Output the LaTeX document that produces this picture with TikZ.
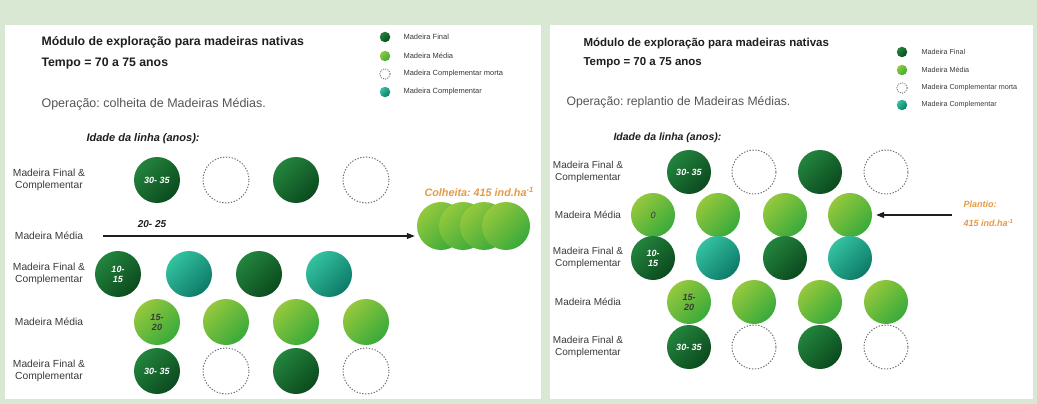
\documentclass[tikz,border=0pt]{standalone}
\usepackage{fontspec}
\setmainfont{Liberation Sans}
\frenchspacing
\usetikzlibrary{arrows.meta}
\definecolor{bg}{HTML}{D9E8D3}
\definecolor{finA}{HTML}{23843D}
\definecolor{finB}{HTML}{0B4A1E}
\definecolor{medA}{HTML}{95C83D}
\definecolor{medB}{HTML}{38AA3A}
\definecolor{compA}{HTML}{33C2A0}
\definecolor{compB}{HTML}{0D7A68}
\definecolor{orng}{HTML}{E69A45}
\definecolor{txtdark}{HTML}{1E1E1E}
\definecolor{txtgray}{HTML}{555555}
\definecolor{labgray}{HTML}{3A3A3A}
\definecolor{dotgray}{HTML}{707070}
\tikzset{
  ball/.style={circle, inner sep=0pt, minimum size=46pt},
  bigball/.style={circle, inner sep=0pt, minimum size=48pt},
  sball/.style={circle, inner sep=0pt, minimum size=44pt},
  lball/.style={circle, inner sep=0pt, minimum size=10.5pt},
  fin/.style={shade, top color=finA, bottom color=finB, shading angle=45},
  med/.style={shade, top color=medA, bottom color=medB, shading angle=45},
  comp/.style={shade, top color=compA, bottom color=compB, shading angle=45},
  morta/.style={draw=dotgray, dash pattern=on 1.3pt off 1.6pt, line width=1pt},
  lmorta/.style={draw=dotgray, dash pattern=on 1pt off 1.2pt, line width=0.9pt},
  rowlab/.style={align=center, font=\fontsize{10.3}{12.5}\selectfont, text=labgray},
  inw/.style={font=\bfseries\itshape\fontsize{9}{10}\selectfont, align=center, text=white},
  ind/.style={font=\bfseries\itshape\fontsize{9}{10}\selectfont, align=center, text=labgray},
  title/.style={anchor=west, font=\bfseries\fontsize{12.3}{14}\selectfont, text=txtdark},
  oper/.style={anchor=west, font=\fontsize{12.5}{15}\selectfont, text=txtgray},
  idade/.style={anchor=west, font=\bfseries\itshape\fontsize{11}{13}\selectfont, text=txtdark},
  legtxt/.style={anchor=west, font=\fontsize{7.5}{9}\selectfont, text=labgray},
  orangetxt/.style={anchor=west, font=\bfseries\itshape\fontsize{10.8}{12}\selectfont, text=orng},
  arr/.style={-{Triangle[length=8pt,width=6pt]}, line width=1.1pt, draw=txtdark},
}
\begin{document}
\begin{tikzpicture}[x=1pt,y=-1pt]
\useasboundingbox (0,0) rectangle (1037,404);
\fill[bg] (0,0) rectangle (1037,404);
\fill[white] (5,25) rectangle (541,399);
\fill[white] (550,25) rectangle (1033,399);

% ---------------- LEFT PANEL ----------------
\node[title] (Lt1) at (38,42) {Módulo de exploração para madeiras nativas};
\node[title] (Lt2) at (38,63) {Tempo = 70 a 75 anos};
\node[oper] (Lop) at (38,104) {Operação: colheita de Madeiras Médias.};
\node[idade] (Lid) at (83,139) {Idade da linha (anos):};

\node[lball, fin] (Lg1) at (385,37) {};
\node[lball, med] (Lg2) at (385,56) {};
\node[lball, lmorta] (Lg3) at (385,74) {};
\node[lball, comp] (Lg4) at (385,92) {};
\node[legtxt] (Lg1t) at (400,37) {Madeira Final};
\node[legtxt] (Lg2t) at (400,56) {Madeira Média};
\node[legtxt] (Lg3t) at (400,74) {Madeira Complementar morta};
\node[legtxt] (Lg4t) at (400,92) {Madeira Complementar};

% row 1
\node[rowlab] (Lr1) at (49,180) {Madeira Final \&\\Complementar};
\node[ball, fin, inw] (L1a) at (157,180) {30- 35};
\node[ball, morta] (L1b) at (226,180) {};
\node[ball, fin] (L1c) at (296,180) {};
\node[ball, morta] (L1d) at (366,180) {};
\node[orangetxt] (Lcol) at (421,192) {Colheita: 415 ind.ha\textsuperscript{-1}};

% row 2
\node[rowlab] (Lr2) at (49,236) {Madeira Média};
\node[font=\bfseries\itshape\fontsize{10}{12}\selectfont, text=txtdark] (Lage2) at (152,224) {20- 25};
\node[bigball, med] (H1) at (441,226) {};
\node[bigball, med] (H2) at (463,226) {};
\node[bigball, med] (H3) at (484,226) {};
\node[bigball, med] (H4) at (506,226) {};
\coordinate (La) at (103,236);
\draw[arr, shorten >=2pt] (La) -- (La -| H1.west);

% row 3
\node[rowlab] (Lr3) at (49,274) {Madeira Final \&\\Complementar};
\node[ball, fin, inw] (L3a) at (118,274) {10-\\15};
\node[ball, comp] (L3b) at (189,274) {};
\node[ball, fin] (L3c) at (259,274) {};
\node[ball, comp] (L3d) at (329,274) {};

% row 4
\node[rowlab] (Lr4) at (49,322) {Madeira Média};
\node[ball, med, ind] (L4a) at (157,322) {15-\\20};
\node[ball, med] (L4b) at (226,322) {};
\node[ball, med] (L4c) at (296,322) {};
\node[ball, med] (L4d) at (366,322) {};

% row 5
\node[rowlab] (Lr5) at (49,371) {Madeira Final \&\\Complementar};
\node[ball, fin, inw] (L5a) at (157,371) {30- 35};
\node[ball, morta] (L5b) at (226,371) {};
\node[ball, fin] (L5c) at (296,371) {};
\node[ball, morta] (L5d) at (366,371) {};

% ---------------- RIGHT PANEL ----------------
\node[title, font=\bfseries\fontsize{11.5}{13}\selectfont] (Rt1) at (580,43) {Módulo de exploração para madeiras nativas};
\node[title, font=\bfseries\fontsize{11.5}{13}\selectfont] (Rt2) at (580,63) {Tempo = 70 a 75 anos};
\node[oper, font=\fontsize{12.2}{14}\selectfont] (Rop) at (563,102) {Operação: replantio de Madeiras Médias.};
\node[idade, font=\bfseries\itshape\fontsize{10.5}{12}\selectfont] (Rid) at (610,138) {Idade da linha (anos):};

\node[lball, fin] (Rg1) at (902,52) {};
\node[lball, med] (Rg2) at (902,70) {};
\node[lball, lmorta] (Rg3) at (902,88) {};
\node[lball, comp] (Rg4) at (902,105) {};
\node[legtxt, font=\fontsize{7.2}{8}\selectfont] (Rg1t) at (918,52) {Madeira Final};
\node[legtxt, font=\fontsize{7.2}{8}\selectfont] (Rg2t) at (918,70) {Madeira Média};
\node[legtxt, font=\fontsize{7.2}{8}\selectfont] (Rg3t) at (918,88) {Madeira Complementar morta};
\node[legtxt, font=\fontsize{7.2}{8}\selectfont] (Rg4t) at (918,105) {Madeira Complementar};

% row 1
\node[rowlab, font=\fontsize{10}{12}\selectfont] (Rr1) at (588,172) {Madeira Final \&\\Complementar};
\node[sball, fin, inw] (R1a) at (689,172) {30- 35};
\node[sball, morta] (R1b) at (754,172) {};
\node[sball, fin] (R1c) at (820,172) {};
\node[sball, morta] (R1d) at (886,172) {};

% row 2
\node[rowlab, font=\fontsize{10}{12}\selectfont] (Rr2) at (588,215) {Madeira Média};
\node[sball, med, ind, font=\itshape\fontsize{9}{10}\selectfont] (R2a) at (653,215) {0};
\node[sball, med] (R2b) at (718,215) {};
\node[sball, med] (R2c) at (785,215) {};
\node[sball, med] (R2d) at (850,215) {};
\coordinate (Ra) at (952,215);
\draw[arr, shorten >=4pt] (Ra) -- (R2d.east);
\node[orangetxt, font=\bfseries\itshape\fontsize{9}{11}\selectfont] (Rpl1) at (960,204) {Plantio:};
\node[orangetxt, font=\bfseries\itshape\fontsize{9}{11}\selectfont] (Rpl2) at (960,223) {415 ind.ha\textsuperscript{-1}};

% row 3
\node[rowlab, font=\fontsize{10}{12}\selectfont] (Rr3) at (588,258) {Madeira Final \&\\Complementar};
\node[sball, fin, inw] (R3a) at (653,258) {10-\\15};
\node[sball, comp] (R3b) at (718,258) {};
\node[sball, fin] (R3c) at (785,258) {};
\node[sball, comp] (R3d) at (850,258) {};

% row 4
\node[rowlab, font=\fontsize{10}{12}\selectfont] (Rr4) at (588,302) {Madeira Média};
\node[sball, med, ind] (R4a) at (689,302) {15-\\20};
\node[sball, med] (R4b) at (754,302) {};
\node[sball, med] (R4c) at (820,302) {};
\node[sball, med] (R4d) at (886,302) {};

% row 5
\node[rowlab, font=\fontsize{10}{12}\selectfont] (Rr5) at (588,347) {Madeira Final \&\\Complementar};
\node[sball, fin, inw] (R5a) at (689,347) {30- 35};
\node[sball, morta] (R5b) at (754,347) {};
\node[sball, fin] (R5c) at (820,347) {};
\node[sball, morta] (R5d) at (886,347) {};
\end{tikzpicture}
\end{document}
